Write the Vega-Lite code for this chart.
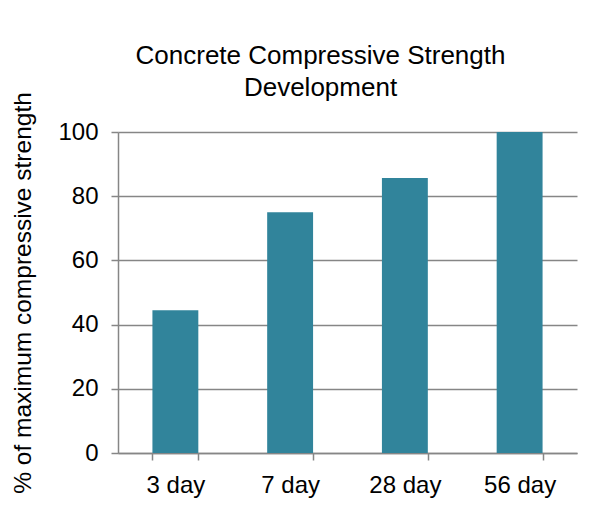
{
  "$schema": "https://vega.github.io/schema/vega-lite/v6.json",
  "width": 459,
  "height": 321,
  "autosize": {"type": "none"},
  "padding": {"left": 118, "top": 132, "right": 26, "bottom": 59},
  "background": "white",
  "config": {"view": {"stroke": null}, "font": "Liberation Sans"},
  "title": {
    "text": ["Concrete Compressive Strength", "Development"],
    "font": "Liberation Sans",
    "fontSize": 26,
    "fontWeight": "normal",
    "color": "#000000",
    "anchor": "middle",
    "frame": "group",
    "dx": -27,
    "offset": -9,
    "lineHeight": 32
  },
  "data": {
    "values": [
      {"age": "3 day", "strength": 44.5},
      {"age": "7 day", "strength": 75},
      {"age": "28 day", "strength": 85.7},
      {"age": "56 day", "strength": 100}
    ]
  },
  "mark": {"type": "bar", "color": "#31849B"},
  "encoding": {
    "x": {
      "field": "age",
      "type": "nominal",
      "sort": null,
      "scale": {"paddingInner": 0.6, "paddingOuter": 0.3},
      "axis": {
        "title": null,
        "labelAngle": 0,
        "labelFontSize": 24,
        "labelColor": "#000000",
        "labelPadding": 13,
        "domainColor": "#868686",
        "domainWidth": 1.5,
        "tickColor": "#868686",
        "tickWidth": 1.5,
        "tickSize": 7,
        "tickBand": "extent",
        "grid": false
      }
    },
    "y": {
      "field": "strength",
      "type": "quantitative",
      "scale": {"domain": [0, 100]},
      "axis": {
        "title": "% of maximum compressive strength",
        "titleFontSize": 24.5,
        "titleFontWeight": "normal",
        "titleColor": "#000000",
        "titlePadding": 22,
        "values": [0, 20, 40, 60, 80, 100],
        "labelFontSize": 24,
        "labelColor": "#000000",
        "labelPadding": 13,
        "domainColor": "#868686",
        "domainWidth": 1.5,
        "tickColor": "#868686",
        "tickWidth": 1.5,
        "tickSize": 7,
        "gridColor": "#868686",
        "gridWidth": 1.5
      }
    }
  }
}
